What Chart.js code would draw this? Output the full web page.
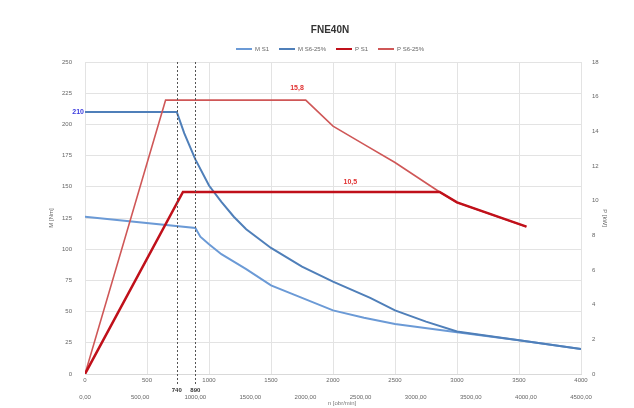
<!DOCTYPE html>
<html><head><meta charset="utf-8">
<script src="https://cdn.jsdelivr.net/npm/chart.js@4/dist/chart.umd.min.js"></script>
<style>html,body{margin:0;padding:0;background:#fff}#wrap{width:634px;height:408px}</style>
</head><body><div id="wrap"><canvas id="c" width="634" height="408"></canvas></div>
<script>
const chartTitle = "FNE40N";
const seriesNames = ["M S1", "M S6-25%", "P S1", "P S6-25%"];

const speedMS1 = [0, 890, 930, 1000, 1100, 1200, 1300, 1500, 1700, 2000, 2250, 2500, 3000, 3500, 4000];
const torqueMS1 = [126, 117, 110, 104, 96, 90, 84, 71, 63, 51, 45, 40, 33.5, 27, 20];

const speedMS6 = [0, 740, 800, 890, 1000, 1100, 1200, 1300, 1500, 1750, 2000, 2300, 2500, 2750, 3000, 3500, 4000];
const torqueMS6 = [210, 210, 193, 172, 151, 138, 126, 116, 101, 86, 74, 61, 51, 42, 34, 27, 20];

const speedPS1 = [0, 790, 2860, 3000, 3560];
const powerPS1 = [0, 10.5, 10.5, 9.9, 8.5];

const speedPS6 = [0, 650, 1780, 2000, 2250, 2500, 2860, 3000, 3560];
const powerPS6 = [0, 15.8, 15.8, 14.3, 13.25, 12.2, 10.5, 9.9, 8.5];

const markerSpeeds = [740, 890];
const torqueNote = { value: 210, text: "210" };
const powerNotes = [
  { speed: 1710, power: 16.5, text: "15,8" },
  { speed: 2140, power: 11.1, text: "10,5" }
];
const xAxisTitle = "n [obr/min]";
const leftAxisTitle = "M [Nm]";
const rightAxisTitle = "P [kW]";

const FONT = "'Liberation Sans', Arial, sans-serif";
const pts = (xs, ys) => xs.map((x, i) => ({ x: x, y: ys[i] }));

const notesPlugin = {
  id: 'notes',
  afterDatasetsDraw(chart) {
    const { ctx, chartArea, scales } = chart;
    const x = scales.x, y = scales.y, y2 = scales.y2;
    ctx.save();
    ctx.strokeStyle = '#555';
    ctx.lineWidth = 1;
    ctx.setLineDash([2, 2]);
    markerSpeeds.forEach(v => {
      const px = Math.round(x.getPixelForValue(v)) + 0.5;
      ctx.beginPath();
      ctx.moveTo(px, chartArea.top);
      ctx.lineTo(px, chartArea.bottom + 11);
      ctx.stroke();
    });
    ctx.setLineDash([]);
    ctx.fillStyle = '#333';
    ctx.font = "bold 6px " + FONT;
    ctx.textAlign = 'center';
    ctx.textBaseline = 'middle';
    markerSpeeds.forEach(v => {
      ctx.fillText(String(v), x.getPixelForValue(v), chartArea.bottom + 16);
    });
    ctx.fillStyle = '#3a3adf';
    ctx.font = "bold 7px " + FONT;
    ctx.textAlign = 'right';
    ctx.fillText(torqueNote.text, chartArea.left - 1, y.getPixelForValue(torqueNote.value));
    ctx.fillStyle = '#e03030';
    ctx.textAlign = 'center';
    powerNotes.forEach(n => {
      ctx.fillText(n.text, x.getPixelForValue(n.speed), y2.getPixelForValue(n.power));
    });
    ctx.fillStyle = '#777';
    ctx.font = "6px " + FONT;
    ctx.fillText(xAxisTitle, 342, 403);
    ctx.restore();
  }
};

new Chart(document.getElementById('c'), {
  type: 'scatter',
  data: {
    datasets: [
      { label: seriesNames[0], data: pts(speedMS1, torqueMS1), yAxisID: 'y', borderColor: '#6b9ad6', backgroundColor: '#6b9ad6', borderWidth: 2, order: 3 },
      { label: seriesNames[1], data: pts(speedMS6, torqueMS6), yAxisID: 'y', borderColor: '#4f7fb9', backgroundColor: '#4f7fb9', borderWidth: 2, order: 2 },
      { label: seriesNames[2], data: pts(speedPS1, powerPS1), yAxisID: 'y2', borderColor: '#c0101a', backgroundColor: '#c0101a', borderWidth: 2.5, order: 0 },
      { label: seriesNames[3], data: pts(speedPS6, powerPS6), yAxisID: 'y2', borderColor: '#cf5757', backgroundColor: '#cf5757', borderWidth: 1.6, order: 1 }
    ]
  },
  options: {
    responsive: false,
    animation: false,
    devicePixelRatio: 1,
    showLine: true,
    elements: { point: { radius: 0, hoverRadius: 0 }, line: { tension: 0 } },
    layout: { padding: { left: 26, right: 0, top: 0, bottom: 0 } },
    plugins: {
      title: { display: true, text: chartTitle, color: '#333', font: { family: FONT, size: 10, weight: 'bold', lineHeight: 1.2 }, padding: { top: 24, bottom: 0 } },
      legend: {
        display: true,
        labels: {
          font: { family: FONT, size: 6 }, color: '#666', padding: 10, boxWidth: 16, boxHeight: 2,
          sort: (a, b) => a.datasetIndex - b.datasetIndex,
          generateLabels: (chart) => Chart.defaults.plugins.legend.labels.generateLabels(chart).map(l => Object.assign(l, { lineWidth: 0, fillStyle: l.strokeStyle }))
        }
      },
      tooltip: { enabled: false }
    },
    scales: {
      x: {
        type: 'linear', position: 'bottom', min: 0, max: 4000, weight: 0,
        ticks: { stepSize: 500, padding: 3, color: '#666', font: { family: FONT, size: 6 }, maxRotation: 0, callback: v => String(v) },
        grid: { color: '#e3e3e3', drawTicks: false },
        border: { color: '#d9d9d9' },
        afterFit: s => { s.height = 14; }
      },
      x2: {
        type: 'linear', position: 'bottom', min: 0, max: 4500, weight: 1,
        ticks: { stepSize: 500, padding: 6, color: '#666', font: { family: FONT, size: 6 }, maxRotation: 0,
          callback: v => v.toFixed(2).replace('.', ',') },
        grid: { display: false, drawTicks: false },
        border: { display: false },
        afterFit: s => { s.height = 20; }
      },
      y: {
        type: 'linear', position: 'left', min: 0, max: 250,
        ticks: { stepSize: 25, padding: 13, color: '#666', font: { family: FONT, size: 6 } },
        grid: { color: '#e3e3e3', drawTicks: false },
        border: { display: false },
        title: { display: true, text: leftAxisTitle, color: '#666', font: { family: FONT, size: 6 }, padding: { top: 22, bottom: 0 } },
        afterFit: s => { s.width = 59; }
      },
      y2: {
        type: 'linear', position: 'right', min: 0, max: 18,
        ticks: { stepSize: 2, padding: 11, color: '#666', font: { family: FONT, size: 6 } },
        grid: { display: false, drawTicks: false },
        border: { display: false },
        title: { display: true, text: rightAxisTitle, color: '#666', font: { family: FONT, size: 6 }, padding: { top: 26, bottom: 0 } },
        afterFit: s => { s.width = 53; }
      }
    }
  },
  plugins: [notesPlugin]
});
</script>
</body></html>
